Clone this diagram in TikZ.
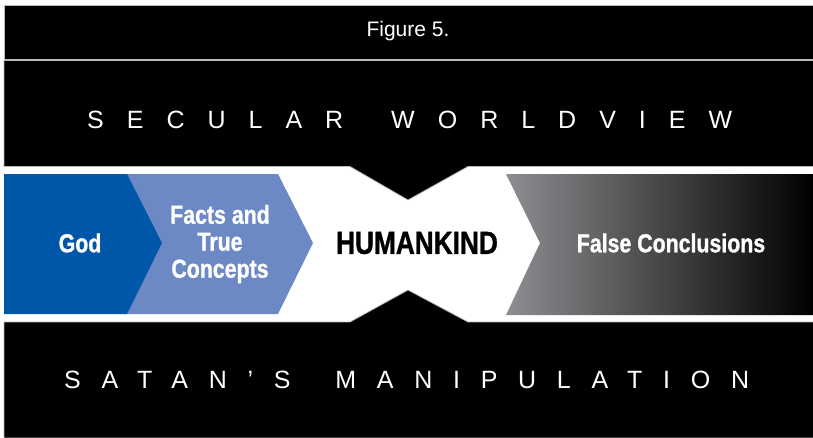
\documentclass[tikz,border=0pt]{standalone}
\usepackage{fontspec}
\setmainfont{Liberation Sans}
\newfontfamily\condfont{Liberation Sans}[FakeStretch=0.82,FakeBold=1]
\newfontfamily\spacedfont{Liberation Sans}[LetterSpace=92]
\newfontfamily\spacedfontb{Liberation Sans}[LetterSpace=83]
\usetikzlibrary{positioning}
\pgfdeclarelayer{shapelayer}
\pgfdeclarelayer{nodelayer}
\pgfsetlayers{shapelayer,main,nodelayer}
\definecolor{godblue}{RGB}{0,87,168}
\definecolor{factblue}{RGB}{108,137,198}
\definecolor{falsegray}{RGB}{142,142,146}
\tikzstyle{band}=[fill=black,draw=gray!55,line width=0.8pt]
\tikzstyle{chevron}=[draw=none]
\tikzstyle{chevlabel}=[text=white,font=\condfont\bfseries\fontsize{26}{27}\selectfont,align=center,inner sep=0pt]
\tikzstyle{bandlabel}=[text=white,inner sep=0pt]

\begin{document}
\begin{tikzpicture}[x=1pt,y=-1pt]
	\useasboundingbox (0,0) rectangle (813,437);
	\begin{pgfonlayer}{shapelayer}
		\fill [white] (0,0) rectangle (813,437);
		\draw [style=band] (4,5.5) rectangle (814,59);
		\draw [style=band] (4,60.5) -- (814,60.5) -- (814,166.5) -- (468,166.5) -- (408,200) -- (350,166.5) -- (4,166.5) -- cycle;
		\draw [style=band] (4,322) -- (350,322) -- (408,290) -- (468,322) -- (814,322) -- (814,438) -- (4,438) -- cycle;
		\fill [style=chevron,factblue] (126,174) -- (278,174) -- (313,243) -- (278,314) -- (126,314) -- cycle;
		\fill [style=chevron,godblue] (4,174) -- (127,174) -- (162,243) -- (127,314) -- (4,314) -- cycle;
		\shade [style=chevron,left color=falsegray,right color=black] (506,174) -- (813,174) -- (813,315) -- (506,315) -- (540,243) -- cycle;
	\end{pgfonlayer}
	\begin{pgfonlayer}{nodelayer}
		\node [style=bandlabel,font=\fontsize{21}{24}\selectfont] (0) at (408,31) {Figure 5.};
		\node [style=bandlabel,anchor=west,font=\spacedfont\fontsize{25}{30}\selectfont] (1) at (87,120) {SECULAR\hspace{18pt} WORLDVIEW};
		\node [style=chevlabel] (2) at (80,243) {God};
		\node [style=chevlabel] (3) at (220,244) {Facts and\\True\\Concepts};
		\node [style=chevlabel,text=black,font=\condfont\bfseries\fontsize{32}{34}\selectfont] (4) at (417,243) {HUMANKIND};
		\node [style=chevlabel] (5) at (671,243) {False Conclusions};
		\node [style=bandlabel,anchor=west,font=\spacedfontb\fontsize{25}{30}\selectfont] (6) at (64,380) {SATAN’S\hspace{17pt} MANIPULATION};
	\end{pgfonlayer}
\end{tikzpicture}
\end{document}
